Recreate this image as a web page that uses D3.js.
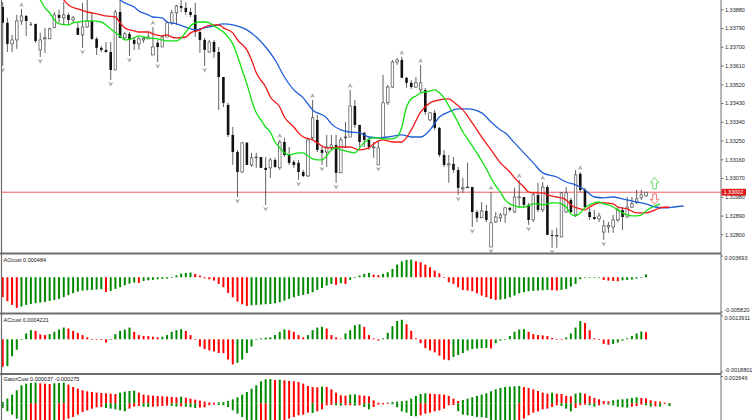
<!DOCTYPE html>
<html>
<head>
<meta charset="utf-8">
<script src="https://cdn.jsdelivr.net/npm/d3@7"></script>
<style>
html, body { margin: 0; padding: 0; background: #fff; overflow: hidden; }
svg { display: block; }
</style>
</head>
<body>
<script>
// ---- candles (one per bar) ----
const barOpen = [1.33891,1.33815,1.33714,1.33733,1.33824,1.33848,1.33810,1.33810,1.33685,1.33738,
1.33738,1.33791,1.33853,1.33839,1.33853,1.33829,1.33791,1.33757,1.33795,1.33824,
1.33738,1.33695,1.33685,1.33675,1.33589,1.33867,1.33743,1.33762,1.33733,1.33714,
1.33733,1.33738,1.33661,1.33719,1.33699,1.33747,1.33815,1.33863,1.33896,1.33887,
1.33867,1.33853,1.33771,1.33733,1.33675,1.33723,1.33675,1.33555,1.33421,1.33277,
1.33195,1.33099,1.33239,1.33133,1.33167,1.33171,1.33119,1.33119,1.33157,1.33119,
1.33243,1.33181,1.33147,1.33143,1.33099,1.33080,1.33263,1.33349,1.33205,1.33195,
1.33215,1.33229,1.33095,1.33263,1.33267,1.33416,1.33325,1.33287,1.33253,1.33215,
1.33133,1.33263,1.33431,1.33507,1.33627,1.33637,1.33551,1.33527,1.33507,1.33493,
1.33493,1.33349,1.33383,1.33311,1.33181,1.33133,1.33138,1.33109,1.33018,1.33023,
1.33027,1.32907,1.32879,1.32912,1.32739,1.32859,1.32879,1.32893,1.32927,1.32907,
1.32975,1.32979,1.32941,1.32869,1.32989,1.32917,1.33027,1.32797,1.32792,1.32787,
1.32907,1.32965,1.32893,1.33090,1.33013,1.32907,1.32883,1.32874,1.32811,1.32835,
1.32835,1.32869,1.32917,1.32883,1.32931,1.32951,1.32975,1.32984]
const barHigh = [1.33915,1.33839,1.33757,1.33853,1.33882,1.33853,1.33819,1.33810,1.33767,1.33791,
1.33791,1.33867,1.33877,1.33915,1.33863,1.33848,1.33819,1.33911,1.33925,1.33867,
1.33747,1.33704,1.33723,1.33723,1.33877,1.33925,1.33771,1.33771,1.33747,1.33747,
1.33747,1.33767,1.33795,1.33733,1.33757,1.33824,1.33877,1.33901,1.33925,1.33915,
1.33887,1.33911,1.33791,1.33743,1.33733,1.33733,1.33699,1.33555,1.33431,1.33315,
1.33205,1.33243,1.33243,1.33191,1.33191,1.33171,1.33171,1.33167,1.33167,1.33253,
1.33263,1.33219,1.33157,1.33157,1.33109,1.33263,1.33445,1.33373,1.33219,1.33277,
1.33277,1.33277,1.33267,1.33339,1.33493,1.33445,1.33325,1.33291,1.33263,1.33243,
1.33253,1.33565,1.33517,1.33637,1.33647,1.33651,1.33555,1.33541,1.33555,1.33613,
1.33503,1.33387,1.33397,1.33315,1.33205,1.33181,1.33171,1.33123,1.33071,1.33143,
1.33027,1.32917,1.32955,1.32941,1.33003,1.32907,1.32903,1.32931,1.32931,1.33023,
1.33061,1.32979,1.32951,1.33003,1.33047,1.33051,1.33037,1.32821,1.32831,1.33003,
1.33027,1.32975,1.33109,1.33099,1.33023,1.32927,1.32917,1.32903,1.32869,1.32859,
1.32893,1.32931,1.32931,1.32979,1.32979,1.33013,1.33013,1.33003]
const barLow = [1.33608,1.33675,1.33675,1.33690,1.33805,1.33752,1.33800,1.33719,1.33651,1.33671,
1.33738,1.33791,1.33815,1.33805,1.33805,1.33819,1.33757,1.33695,1.33791,1.33733,
1.33661,1.33675,1.33671,1.33541,1.33589,1.33743,1.33733,1.33656,1.33685,1.33685,
1.33719,1.33738,1.33661,1.33627,1.33699,1.33747,1.33805,1.33805,1.33867,1.33853,
1.33843,1.33747,1.33671,1.33608,1.33671,1.33647,1.33397,1.33411,1.33267,1.33133,
1.32979,1.33095,1.33133,1.33123,1.33119,1.33119,1.32941,1.33071,1.33119,1.33109,
1.33171,1.33133,1.33119,1.33061,1.33075,1.33075,1.33253,1.33195,1.33133,1.33123,
1.33205,1.33047,1.33095,1.33215,1.33267,1.33311,1.33219,1.33219,1.33205,1.33167,
1.33133,1.33263,1.33421,1.33503,1.33613,1.33551,1.33503,1.33498,1.33503,1.33483,
1.33373,1.33344,1.33301,1.33171,1.33123,1.33047,1.33095,1.32989,1.32999,1.33023,
1.32835,1.32859,1.32879,1.32859,1.32739,1.32855,1.32859,1.32855,1.32907,1.32903,
1.32927,1.32927,1.32845,1.32859,1.32907,1.32907,1.32797,1.32735,1.32735,1.32787,
1.32903,1.32903,1.32883,1.33003,1.32927,1.32869,1.32869,1.32859,1.32773,1.32807,
1.32807,1.32859,1.32821,1.32879,1.32927,1.32946,1.32965,1.32979]
const barClose = [1.33815,1.33714,1.33733,1.33824,1.33848,1.33824,1.33808,1.33728,1.33733,1.33743,
1.33786,1.33853,1.33839,1.33853,1.33829,1.33839,1.33757,1.33795,1.33824,1.33738,
1.33695,1.33685,1.33675,1.33589,1.33867,1.33743,1.33762,1.33733,1.33714,1.33738,
1.33740,1.33747,1.33699,1.33699,1.33747,1.33815,1.33863,1.33896,1.33887,1.33867,
1.33853,1.33771,1.33733,1.33685,1.33723,1.33675,1.33555,1.33431,1.33277,1.33195,
1.33099,1.33239,1.33133,1.33167,1.33171,1.33119,1.33109,1.33157,1.33123,1.33243,
1.33181,1.33143,1.33133,1.33099,1.33080,1.33253,1.33359,1.33205,1.33191,1.33219,
1.33229,1.33095,1.33253,1.33267,1.33416,1.33325,1.33243,1.33253,1.33219,1.33219,
1.33215,1.33431,1.33507,1.33627,1.33637,1.33551,1.33527,1.33507,1.33527,1.33527,
1.33387,1.33383,1.33311,1.33181,1.33133,1.33138,1.33109,1.33023,1.33023,1.33027,
1.32907,1.32879,1.32912,1.32869,1.32855,1.32883,1.32893,1.32927,1.32917,1.32979,
1.32980,1.32941,1.32869,1.32989,1.32917,1.33027,1.32797,1.32792,1.32795,1.32999,
1.32999,1.32907,1.33085,1.33013,1.32931,1.32883,1.32874,1.32888,1.32840,1.32842,
1.32869,1.32917,1.32883,1.32931,1.32946,1.32970,1.32989,1.33002]

// ---- alligator lines: bar index / price ----
const jawBars = [23,25,26,28,29,31,32,34,35,37,39,41,43,45,47,49,52,54,56,58,60,62,64,66,69,70,72,74,76,78,80,82,85,87,89,91,93,95,97,99,102,104,106,107,109,111,113,115,118,120,122,124,126,128,130,132,135,137,139,141,143,145]
const jawPrices = [1.33963,1.33925,1.33911,1.33891,1.33872,1.33853,1.33843,1.33839,1.33819,1.33810,1.33795,1.33781,1.33791,1.33800,1.33810,1.33805,1.33781,1.33747,1.33699,1.33637,1.33555,1.33493,1.33455,1.33397,1.33359,1.33330,1.33301,1.33291,1.33287,1.33267,1.33263,1.33267,1.33277,1.33267,1.33267,1.33301,1.33363,1.33387,1.33402,1.33402,1.33383,1.33339,1.33301,1.33287,1.33239,1.33191,1.33143,1.33095,1.33075,1.33051,1.33037,1.33013,1.32979,1.32975,1.32979,1.32970,1.32955,1.32946,1.32931,1.32927,1.32931,1.32936]
const teethBars = [11,13,14,16,18,19,21,22,24,25,26,28,29,31,32,34,35,36,37,39,40,42,43,45,46,47,49,50,52,53,54,56,57,59,60,62,63,64,66,67,69,70,72,74,76,78,79,81,83,85,87,89,91,93,95,96,98,100,102,104,106,108,109,111,112,113,115,116,118,119,120,121,123,124,125,127,128,130,131,133,135,137,139,140,142]
const teethPrices = [1.33963,1.33925,1.33901,1.33882,1.33867,1.33863,1.33853,1.33848,1.33843,1.33815,1.33791,1.33776,1.33771,1.33771,1.33762,1.33752,1.33757,1.33747,1.33743,1.33747,1.33767,1.33781,1.33795,1.33805,1.33805,1.33791,1.33767,1.33733,1.33685,1.33637,1.33575,1.33507,1.33459,1.33411,1.33363,1.33315,1.33287,1.33267,1.33253,1.33239,1.33215,1.33215,1.33219,1.33219,1.33205,1.33215,1.33234,1.33253,1.33243,1.33243,1.33301,1.33387,1.33431,1.33445,1.33450,1.33435,1.33397,1.33335,1.33267,1.33205,1.33143,1.33099,1.33071,1.33027,1.33003,1.32999,1.32999,1.32989,1.32979,1.32975,1.32965,1.32941,1.32922,1.32917,1.32931,1.32951,1.32951,1.32946,1.32931,1.32922,1.32903,1.32903,1.32917,1.32927,1.32931]
const lipsBars = [5,8,9,10,11,12,14,15,16,18,19,21,22,23,25,26,28,29,30,31,33,34,35,36,37,38,39,40,41,42,43,44,45,46,47,48,49,50,51,52,53,54,55,56,57,58,59,60,61,62,63,64,65,66,67,68,69,70,71,72,73,74,75,76,77,78,79,80,81,82,83,84,85,86,87,88,89,90,91,92,93,94,95,96,97,98,99,100,101,102,103,104,105,106,107,108,109,110,111,112,113,114,115,116,117,118,119,120,121,122,123,124,125,126,127,128,129,130,131,132,133,134,135,136,137,138,139,140]
const lipsPrices = [1.33973,1.33925,1.33887,1.33863,1.33829,1.33810,1.33805,1.33815,1.33819,1.33824,1.33824,1.33819,1.33805,1.33786,1.33752,1.33733,1.33743,1.33752,1.33747,1.33743,1.33738,1.33733,1.33728,1.33728,1.33728,1.33743,1.33771,1.33800,1.33815,1.33819,1.33819,1.33815,1.33800,1.33786,1.33771,1.33747,1.33714,1.33656,1.33589,1.33522,1.33445,1.33383,1.33349,1.33315,1.33291,1.33243,1.33215,1.33191,1.33181,1.33186,1.33191,1.33191,1.33177,1.33162,1.33157,1.33157,1.33177,1.33205,1.33215,1.33205,1.33200,1.33195,1.33191,1.33215,1.33239,1.33258,1.33263,1.33263,1.33258,1.33258,1.33258,1.33267,1.33315,1.33411,1.33450,1.33464,1.33479,1.33483,1.33488,1.33493,1.33479,1.33455,1.33416,1.33378,1.33335,1.33291,1.33258,1.33224,1.33191,1.33152,1.33114,1.33071,1.33032,1.33003,1.32965,1.32946,1.32937,1.32931,1.32931,1.32937,1.32946,1.32946,1.32941,1.32946,1.32951,1.32951,1.32946,1.32931,1.32898,1.32888,1.32903,1.32927,1.32941,1.32951,1.32955,1.32946,1.32941,1.32931,1.32917,1.32903,1.32893,1.32888,1.32888,1.32893,1.32912,1.32927,1.32937,1.32946]

// fractal bars
const fractalUpBars = [4,13,32,59,66,74,85,89,104,110,115,123]
const fractalDownBars = [0,8,17,23,27,33,43,50,56,63,68,71,80,97,100,104,112,117,128]

// signal arrows (bar, base price)
const signalBar = 139
const signalUpBase = 1.33018
const signalDownBase = 1.32994

// ---- oscillators, in millionths ----
const aoMicro = [-3396,-4075,-4698,-5207,-4981,-4698,-4528,-4415,-4302,-4188,
-4019,-3849,-3679,-3396,-3056,-2717,-2434,-2264,-2207,-2151,
-2094,-2038,-2490,-2321,-1981,-1698,-1358,-1075,-906,-962,
-623,-509,-453,-340,-283,-226,-113,340,623,736,
792,566,283,-170,-340,-566,-1132,-1698,-2660,-3396,
-4132,-4585,-4868,-4754,-4698,-4641,-4585,-4528,-4415,-4245,
-3962,-3679,-3396,-3170,-3000,-2830,-2547,-2151,-1811,-1415,
-1132,-1302,-1019,-1132,-453,-113,283,566,736,453,
340,566,849,1415,2151,2717,2943,3000,2717,2547,
2151,1698,1132,679,-30,-849,-1132,-1698,-2151,-2264,
-2377,-2717,-3113,-3396,-3679,-3849,-3792,-3679,-3396,-3113,
-2717,-2547,-2377,-2321,-2264,-2207,-2151,-2207,-2264,-2151,
-1981,-1585,-1132,-340,-57,-30,-15,-5,-453,-566,
-623,-680,-509,-453,-396,-226,40,484]
const acMicro = [-1603,-1565,-992,-611,10,343,534,496,286,248,
305,439,572,687,630,496,382,248,114,-10,
-38,-45,-191,-38,305,496,572,687,439,248,
191,185,153,114,153,248,439,534,591,496,
248,-10,-420,-572,-649,-706,-801,-810,-1183,-1469,
-1374,-1183,-801,-420,-5,57,95,114,248,439,
572,534,439,248,114,248,534,687,725,630,
248,114,38,343,534,820,878,725,248,57,
-76,57,382,763,1068,1145,878,496,57,-229,
-515,-649,-763,-954,-1183,-1221,-1030,-916,-801,-649,
-572,-534,-515,-496,-534,-229,-76,-5,191,439,
572,591,439,305,248,229,191,76,-5,-19,
114,343,687,1068,954,534,57,-38,-267,-324,
-267,-191,-76,57,191,343,458,422]
const gatorUpMicro = [129,452,840,1260,1744,1906,1970,2003,1938,1906,
1873,1938,1970,2003,1809,1583,1421,1260,1163,1098,
1034,1001,969,937,904,1034,1131,1195,1227,1034,
840,775,743,711,678,646,614,581,646,549,
452,355,258,162,97,65,97,129,226,388,
581,840,1098,1421,1744,2132,2326,2358,2261,2293,
2229,2164,2132,2067,1906,1680,1583,1550,1615,1583,
1357,1034,775,743,840,872,775,743,678,291,
65,32,65,129,162,194,258,452,711,904,
969,937,904,872,840,711,452,226,323,452,
581,711,840,969,1163,1357,1486,1583,1615,1647,
1680,1583,1486,1357,1195,1034,937,1034,937,904,
711,678,937,1034,937,711,517,388,226,194,
291,355,388,452,517,581,517,485,291,194,
162,65,37]
const gatorDownMicro = [-452,-775,-1098,-1486,-1873,-2196,-2132,-2067,-2003,-1938,
-1873,-1906,-1809,-1712,-1486,-1324,-1098,-840,-678,-517,
-388,-355,-452,-517,-581,-678,-775,-517,-323,-258,
-323,-355,-323,-291,-258,-226,-258,-323,-291,-323,
-388,-452,-420,-388,-194,-129,-162,-194,-355,-678,
-1001,-1324,-1809,-2003,-2132,-2067,-2003,-2035,-1970,-2003,
-1938,-1486,-1324,-1163,-1098,-904,-937,-775,-581,-194,
-162,-194,-226,-194,-190,-226,-194,-355,-581,-355,
-129,-97,-65,-97,-388,-775,-904,-1227,-1260,-1163,
-1001,-904,-775,-678,-517,-194,-162,-775,-1098,-1163,
-1227,-1324,-1357,-1421,-1615,-1809,-1873,-1906,-1938,-1970,
-1906,-1486,-1163,-904,-775,-581,-517,-355,-194,-258,
-517,-775,-452,-194,-129,-194,-323,-194,-97,-129,
-194,-323,-388,-420,-323,-258,-129,-194,-323,-291,
-323,-65,-275]

// axis labels
const priceTicks = [1.33880,1.33790,1.33700,1.33610,1.33520,1.33430,1.33340,1.33250,1.33160,1.33070,1.32980,1.32890,1.32800]
const lastPrice = 1.33002
const aoTicks = [0.003693, -0.005820]
const aoTickLabels = ["0.003693", "-0.005820"]
const acTicks = [0.0013911, -0.0018801]
const acTickLabels = ["0.0013911", "-0.0018801"]
const gatorTicks = [0.002646]
const gatorTickLabels = ["0.002646"]
const paneTitles = ["AOcust 0.000484", "ACcust 0.0004221", "GatorCust 0.000037 -0.000275"]

// ---- layout ----
const W = 752, H = 420
const axisX = 721
const FONT = "'Liberation Sans', Arial, sans-serif"
const GREEN = "#008a00", RED = "#ff0000"

const svg = d3.select("body").append("svg").attr("width", W).attr("height", H)
svg.append("rect").attr("width", W).attr("height", H).attr("fill", "#fff")

const x = d3.scaleLinear().domain([0, 137]).range([2.7, 646])
const yPrice = d3.scaleLinear().domain([1.32800, 1.33880]).range([234.3, 9.3])
const yAO = d3.scaleLinear().domain([-0.005820, 0.003693]).range([311.5, 255.5])
const yAC = d3.scaleLinear().domain([-0.0018801, 0.0013911]).range([371.5, 315.5])
const yGator = d3.scaleLinear().domain([-0.002646, 0.002646]).range([430.6, 376])

const defs = svg.append("defs")
function clip(id, y0, y1) {
    defs.append("clipPath").attr("id", id).append("rect")
        .attr("x", 2).attr("y", y0).attr("width", axisX - 2).attr("height", y1 - y0)
    return svg.append("g").attr("clip-path", `url(#${id})`)
}

// ---- main pane ----
const main = clip("cMain", 0, 252.5)

main.append("line")
    .attr("x1", 0).attr("x2", axisX)
    .attr("y1", yPrice(lastPrice)).attr("y2", yPrice(lastPrice))
    .attr("stroke", "#ee4848").attr("stroke-width", 0.9)

const bars = d3.range(barOpen.length)
main.append("g").selectAll("line").data(bars).join("line")
    .attr("x1", i => x(i)).attr("x2", i => x(i))
    .attr("y1", i => yPrice(barHigh[i])).attr("y2", i => yPrice(barLow[i]))
    .attr("stroke", "#3a3a3a").attr("stroke-width", 0.8)
main.append("g").selectAll("rect").data(bars).join("rect")
    .attr("x", i => x(i) - 1.3).attr("width", 2.6)
    .attr("y", i => Math.min(yPrice(barOpen[i]), yPrice(barClose[i])))
    .attr("height", i => Math.max(0.7, Math.abs(yPrice(barOpen[i]) - yPrice(barClose[i]))))
    .attr("fill", i => barClose[i] >= barOpen[i] ? "#fff" : "#111")
    .attr("stroke", i => barClose[i] >= barOpen[i] ? "#333" : "none")
    .attr("stroke-width", 0.6)

const lineGen = d3.line().x(d => x(d[0])).y(d => yPrice(d[1])).curve(d3.curveMonotoneX)
function drawLine(idx, vals, color) {
    main.append("path").datum(idx.map((b, k) => [b, vals[k]]))
        .attr("d", lineGen).attr("fill", "none")
        .attr("stroke", color).attr("stroke-width", 1.3)
}
drawLine(jawBars, jawPrices, "#1f5fd8")
drawLine(teethBars, teethPrices, "#f01818")
drawLine(lipsBars, lipsPrices, "#10e010")

// fractals
const fractalShape = "M-2.2,1.8L0,-2.4L2.2,1.8L0,0.6Z"
main.append("g").selectAll("path").data(fractalUpBars).join("path")
    .attr("d", fractalShape)
    .attr("transform", i => `translate(${x(i)},${yPrice(barHigh[i]) - 4})`)
    .attr("fill", "#9a9a9a").attr("stroke", "#c8c8c8").attr("stroke-width", 0.5)
main.append("g").selectAll("path").data(fractalDownBars).join("path")
    .attr("d", fractalShape)
    .attr("transform", i => `translate(${x(i)},${yPrice(barLow[i]) + 4}) scale(1,-1)`)
    .attr("fill", "#9a9a9a").attr("stroke", "#c8c8c8").attr("stroke-width", 0.5)

// signal arrows
const arrowShape = "M-1.8,0L-1.8,-6L-4.3,-6L0,-11.5L4.3,-6L1.8,-6L1.8,0Z"
main.append("path").attr("d", arrowShape)
    .attr("transform", `translate(${x(signalBar) - 0.8},${yPrice(signalUpBase)})`)
    .attr("fill", "#fff").attr("stroke", "#5ad85a").attr("stroke-width", 0.9)
main.append("path").attr("d", arrowShape)
    .attr("transform", `translate(${x(signalBar) - 0.8},${yPrice(signalDownBase)}) scale(1,-0.9)`)
    .attr("fill", "#fff").attr("stroke", "#f05a5a").attr("stroke-width", 0.9)

// ---- histogram panes ----
function histogram(g, vals, y, firstColor, useAbs) {
    const y0 = y(0)
    g.append("g").selectAll("rect").data(vals).join("rect")
        .attr("x", (v, i) => x(i) - 1).attr("width", 2)
        .attr("y", v => Math.min(y(v * 1e-6), y0))
        .attr("height", v => Math.max(0.6, Math.abs(y(v * 1e-6) - y0)))
        .attr("fill", (v, i) => {
            if (i === 0) return firstColor
            const a = useAbs ? Math.abs(v) : v
            const b = useAbs ? Math.abs(vals[i - 1]) : vals[i - 1]
            return a > b ? GREEN : RED
        })
}
histogram(clip("cAO", 254.5, 313), aoMicro, yAO, RED, false)
histogram(clip("cAC", 314.5, 373), acMicro, yAC, RED, false)
const gGator = clip("cGator", 375, 420)
histogram(gGator, gatorUpMicro, yGator, GREEN, true)
histogram(gGator, gatorDownMicro, yGator, GREEN, true)

// ---- frame ----
const frame = svg.append("g").attr("stroke", "#6e6e6e")
frame.append("line").attr("x1", axisX).attr("x2", axisX).attr("y1", 0).attr("y2", H).attr("stroke-width", 1)
frame.append("line").attr("x1", 1.5).attr("x2", 1.5).attr("y1", 0).attr("y2", H).attr("stroke-width", 1.2)
for (const sy of [253.5, 313.5, 374]) {
    frame.append("line").attr("x1", 0).attr("x2", axisX).attr("y1", sy).attr("y2", sy).attr("stroke-width", 2)
}

// ---- axes ----
function styleAxis(g) {
    g.select(".domain").remove()
    g.attr("font-size", 5.5).attr("font-family", FONT)
    g.selectAll(".tick line").attr("stroke", "#555").attr("stroke-width", 0.8)
    g.selectAll(".tick text").attr("fill", "#222")
}
svg.append("g").attr("transform", `translate(${axisX},0)`)
    .call(d3.axisRight(yPrice).tickValues(priceTicks).tickFormat(d3.format(".5f")).tickSize(2.5).tickPadding(1.5))
    .call(styleAxis)

function subAxis(y, ticks, labels) {
    svg.append("g").attr("transform", `translate(${axisX},0)`)
        .call(d3.axisRight(y).tickValues(ticks).tickFormat((d, i) => labels[i]).tickSize(2).tickPadding(1.5))
        .call(styleAxis)
        .call(g => g.selectAll(".tick text").attr("y", (d, i) => i === 0 ? 2 : -2))
}
subAxis(yAO, aoTicks, aoTickLabels)
subAxis(yAC, acTicks, acTickLabels)
subAxis(yGator, gatorTicks, gatorTickLabels)

// current price box
const boxY = yPrice(lastPrice)
svg.append("rect").attr("x", axisX + 0.5).attr("y", boxY - 3.4).attr("width", 24.5).attr("height", 6.8).attr("fill", "#e01818")
svg.append("text").attr("x", axisX + 2.5).attr("y", boxY).attr("dy", "0.35em")
    .attr("font-size", 5.5).attr("font-family", FONT).attr("fill", "#fff")
    .text(d3.format(".5f")(lastPrice))

// pane titles
const titleY = [262, 321.5, 380.5]
svg.append("g").selectAll("text").data(paneTitles).join("text")
    .attr("x", 3.5).attr("y", (d, i) => titleY[i])
    .attr("font-size", 5.5).attr("font-family", FONT).attr("fill", "#111")
    .text(d => d)
</script>
</body>
</html>
